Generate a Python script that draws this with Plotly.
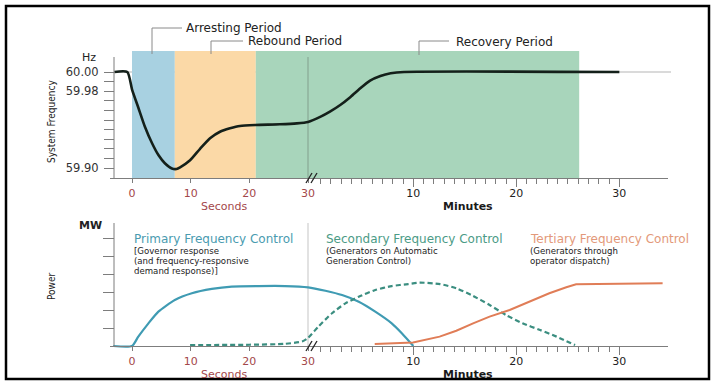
import plotly.graph_objects as go

W, H = 716, 383

# ---------------- data ----------------
# top panel: system frequency (Hz); first part in seconds, second part in minutes
freq_sec_t = [-3.0, -0.8, 0.0, 1.1, 2.2, 3.4, 4.5, 5.6, 6.8, 7.6, 8.2, 9.9, 11.6, 13.3, 15.0, 16.7, 18.4, 21.0, 25.2, 28.1, 30.0]
freq_sec_hz = [60.000, 60.000, 59.982, 59.9625, 59.943, 59.926, 59.9135, 59.905, 59.8995, 59.899, 59.9007,
               59.908, 59.920, 59.931, 59.9378, 59.9413, 59.9438, 59.9448, 59.9455, 59.9465, 59.948]
freq_min_t = [1.0, 1.9, 2.9, 3.9, 4.85, 5.8, 6.8, 7.8, 9.1, 30.0]
freq_min_hz = [59.9535, 59.9587, 59.9656, 59.974, 59.983, 59.991, 59.9958, 59.9986, 60.000, 60.000]

# response periods: (name, start, start unit, end, end unit)
period_names = ["Arresting Period", "Rebound Period", "Recovery Period"]
period_start = [0.0, 7.3, 21.1]
period_start_unit = ["s", "s", "s"]
period_end = [7.3, 21.1, 26.1]
period_end_unit = ["s", "s", "m"]
period_colors = ["#a8d1e1", "#fbd9a7", "#a8d5bb"]

# bottom panel: power (MW, arbitrary units)
primary_sec_t = [-3.2, 0.0, 1.07, 2.8, 4.5, 7.3, 10.2, 13.6, 17.0, 21.5, 26.1, 30.0]
primary_sec_p = [0.0, 0.0, 0.52, 1.26, 1.91, 2.56, 2.93, 3.17, 3.30, 3.33, 3.33, 3.26]
primary_min_t = [1.46, 3.08, 4.7, 6.3, 7.9, 8.9, 10.0]
primary_min_p = [3.07, 2.83, 2.46, 1.91, 1.26, 0.70, 0.0]

secondary_sec_t = [9.9, 20.0, 26.0, 29.0, 30.0]
secondary_sec_p = [0.05, 0.07, 0.12, 0.25, 0.45]
secondary_min_t = [0.77, 2.1, 3.4, 4.7, 6.3, 7.9, 9.5, 10.6, 12.6, 14.2, 15.8, 17.4, 19.0, 20.6, 22.3, 23.9, 25.7]
secondary_min_p = [1.07, 1.82, 2.37, 2.74, 3.11, 3.33, 3.44, 3.52, 3.44, 3.20, 2.78, 2.28, 1.72, 1.26, 0.89, 0.52, 0.05]

tertiary_min_t = [6.25, 9.97, 12.55, 14.17, 15.8, 17.4, 19.35, 21.3, 23.2, 24.85, 25.8, 34.2]
tertiary_min_p = [0.11, 0.19, 0.52, 0.85, 1.26, 1.63, 2.00, 2.46, 2.93, 3.26, 3.43, 3.48]

# axis ticks
sec_ticks = [0, 10, 20, 30]
sec_tick_labels = ["0", "10", "20", "30"]
min_ticks = [10, 20, 30]
min_tick_labels = ["10", "20", "30"]
min_minor_ticks = list(range(1, 31))
freq_ticks = [59.90, 59.91, 59.92, 59.93, 59.94, 59.95, 59.96, 59.97, 59.98, 59.99, 60.00]
freq_tick_labels = ["59.90", "", "", "", "", "", "", "", "59.98", "", "60.00"]
power_ticks = [1, 2, 3, 4, 5, 6]
power_tick_labels = ["", "", "", "", "", ""]

# ---------------- layout geometry ----------------
ZERO_PX = 132.0          # pixel of t = 0 s
SEC_PX = 5.867           # pixels per second
MIN_SCALE = 10.3 / SEC_PX  # seconds-units per minute on the broken axis
MIN_OFFSET = 30.4        # broken-axis position of minute 0


def u(v, unit):
    return v if unit == "s" else MIN_OFFSET + MIN_SCALE * v


def us(vals):
    return [u(v, "s") for v in vals]


def um(vals):
    return [u(v, "m") for v in vals]


def pxx(px):
    return px / W


def pxy(py):
    return 1 - py / H


def hz_at(py):
    return 60.0 - (py - 72.0) / 960.0


def p_at(py):
    return (346.0 - py) / 18.0


XR = [(110 - ZERO_PX) / SEC_PX, (668 - ZERO_PX) / SEC_PX]
XDOM = [pxx(110), pxx(668)]

RED = "#a3474a"
AX = "#7d7d7d"
FONT = "DejaVu Sans, Liberation Sans, sans-serif"
NARROW = "Liberation Sans Narrow, DejaVu Sans Condensed, Liberation Sans, sans-serif"

fig = go.Figure()

# frequency curve
fig.add_trace(go.Scatter(
    x=us(freq_sec_t) + um(freq_min_t), y=freq_sec_hz + freq_min_hz,
    mode="lines", line=dict(color="#14201a", width=2.6, shape="spline", smoothing=0.6),
    xaxis="x", yaxis="y", hoverinfo="skip"))

# primary
fig.add_trace(go.Scatter(
    x=us(primary_sec_t) + um(primary_min_t), y=primary_sec_p + primary_min_p,
    mode="lines", line=dict(color="#3f9bb3", width=2.2, shape="spline", smoothing=0.6),
    xaxis="x2", yaxis="y2", hoverinfo="skip"))
# secondary
fig.add_trace(go.Scatter(
    x=us(secondary_sec_t) + um(secondary_min_t), y=secondary_sec_p + secondary_min_p,
    mode="lines", line=dict(color="#3b8e80", width=2.2, dash="5px,3px", shape="spline", smoothing=0.6),
    xaxis="x2", yaxis="y2", hoverinfo="skip"))
# tertiary
fig.add_trace(go.Scatter(
    x=um(tertiary_min_t), y=tertiary_min_p,
    mode="lines", line=dict(color="#e07d57", width=2.0),
    xaxis="x2", yaxis="y2", hoverinfo="skip"))

# empty traces so that the minute-scale overlay axes are drawn
fig.add_trace(go.Scatter(x=[], y=[], mode="lines", xaxis="x3", yaxis="y", hoverinfo="skip"))
fig.add_trace(go.Scatter(x=[], y=[], mode="lines", xaxis="x4", yaxis="y2", hoverinfo="skip"))

shapes = []
# period bands
for s0, su0, s1, su1, col in zip(period_start, period_start_unit, period_end, period_end_unit, period_colors):
    shapes.append(dict(type="rect", xref="x", yref="y", x0=u(s0, su0), x1=u(s1, su1),
                       y0=hz_at(178), y1=hz_at(51), fillcolor=col, line=dict(width=0), layer="below"))
# 60 Hz reference line
shapes.append(dict(type="line", xref="paper", yref="y", x0=pxx(114), x1=pxx(671), y0=60.0, y1=60.0,
                   line=dict(color="rgba(90,90,90,0.45)", width=1), layer="below"))
# 30-second divider lines
shapes.append(dict(type="line", xref="x", yref="y", x0=30, x1=30, y0=hz_at(178), y1=hz_at(57),
                   line=dict(color="rgba(60,60,60,0.35)", width=1), layer="below"))
shapes.append(dict(type="line", xref="x2", yref="y2", x0=30, x1=30, y0=0, y1=p_at(223),
                   line=dict(color="rgba(60,60,60,0.3)", width=1), layer="below"))
# y axis lines
shapes.append(dict(type="line", xref="paper", yref="y", x0=pxx(114), x1=pxx(114), y0=hz_at(178), y1=hz_at(57),
                   line=dict(color=AX, width=1)))
shapes.append(dict(type="line", xref="paper", yref="y2", x0=pxx(114), x1=pxx(114), y0=0, y1=p_at(223),
                   line=dict(color=AX, width=1)))
# axis break marks
for yb in (178, 346):
    for dx in (0, 5):
        shapes.append(dict(type="line", xref="paper", yref="paper",
                           x0=pxx(306 + dx), y0=pxy(yb + 5), x1=pxx(312 + dx), y1=pxy(yb - 5),
                           line=dict(color="#222", width=1.3)))
# leader lines for period labels
leaders = [(152, 28, 182, 54), (211, 41, 243, 54), (419, 41, 449, 55)]
for xv, yh, xe, yb in leaders:
    shapes.append(dict(type="line", xref="paper", yref="paper", x0=pxx(xv), x1=pxx(xe), y0=pxy(yh), y1=pxy(yh),
                       line=dict(color="#8a8a8a", width=1)))
    shapes.append(dict(type="line", xref="paper", yref="paper", x0=pxx(xv), x1=pxx(xv), y0=pxy(yh), y1=pxy(yb),
                       line=dict(color="#8a8a8a", width=1)))
# outer frame
shapes.append(dict(type="rect", xref="paper", yref="paper", x0=pxx(6), x1=pxx(709), y0=pxy(379), y1=pxy(6),
                   line=dict(color="#000", width=2.5)))

ann = []


def text(x, y, s, size=12, color="#222", anchor="left", angle=0, family=FONT, weight="normal"):
    ann.append(dict(xref="paper", yref="paper", x=pxx(x), y=pxy(y), text=s, showarrow=False,
                    xanchor=anchor, yanchor="middle", textangle=angle,
                    font=dict(size=size, color=color, family=family, weight=weight)))


period_label_pos = [(185, 28), (247, 41), (455, 42)]
for name, (xl, yl) in zip(period_names, period_label_pos):
    text(xl - 1, yl, name, size=12)

text(98, 58, "Hz", size=11, anchor="right")
text(51, 121, "System Frequency", size=10, angle=-90, anchor="center", family=NARROW)
text(51, 286, "Power", size=10, angle=-90, anchor="center", family=NARROW)
text(90, 226, "MW", size=11, anchor="center", weight="bold")

for yy in (206, 374):
    text(224, yy, "Seconds", size=11, color=RED, anchor="center")
    text(468, yy, "Minutes", size=11, color="#1a1a1a", anchor="center", weight="bold")

SUB = 8.6
text(132, 239, "Primary Frequency Control", size=12, color="#4a9bb0")
text(132, 250.5, "[Governor response", size=SUB)
text(132, 260.5, "(and frequency-responsive", size=SUB)
text(132, 270.5, "demand response)]", size=SUB)

text(324, 239, "Secondary Frequency Control", size=12, color="#4b9b86")
text(324, 250.5, "(Generators on Automatic", size=SUB)
text(324, 260.5, "Generation Control)", size=SUB)

text(528, 239, "Tertiary Frequency Control", size=12, color="#e3997a")
text(528, 250.5, "(Generators through", size=SUB)
text(528, 260.5, "operator dispatch)", size=SUB)


def sec_axis(pos_py):
    return dict(domain=XDOM, range=XR, anchor="free", position=pxy(pos_py),
                showline=True, linecolor=AX, linewidth=1, showgrid=False, zeroline=False,
                tickmode="array", tickvals=us(sec_ticks), ticktext=sec_tick_labels,
                ticks="outside", ticklen=4, tickcolor=AX, tickwidth=1,
                tickfont=dict(size=11, color=RED, family=FONT), ticklabelstandoff=1)


def min_axis(over, pos_py):
    return dict(overlaying=over, domain=XDOM, range=XR, anchor="free", position=pxy(pos_py),
                showline=False, showgrid=False, zeroline=False,
                tickmode="array", tickvals=um(min_ticks), ticktext=min_tick_labels,
                ticks="outside", ticklen=8, tickcolor=AX, tickwidth=1,
                tickfont=dict(size=11, color="#222", family=FONT), ticklabelstandoff=-3,
                minor=dict(tickmode="array", tickvals=um(min_minor_ticks), ticks="outside",
                           ticklen=5, tickcolor=AX, tickwidth=1))


fig.update_layout(
    width=W, height=H, autosize=False,
    margin=dict(l=0, r=0, t=0, b=0),
    paper_bgcolor="white", plot_bgcolor="rgba(0,0,0,0)",
    showlegend=False,
    xaxis=sec_axis(178),
    xaxis3=min_axis("x", 178),
    xaxis2=sec_axis(346),
    xaxis4=min_axis("x2", 346),
    yaxis=dict(domain=[pxy(182), pxy(18)], range=[hz_at(182), hz_at(18)], anchor="free", position=pxx(114),
               showline=False, showgrid=False, zeroline=False,
               tickmode="array", tickvals=freq_ticks, ticktext=freq_tick_labels,
               ticks="outside", ticklen=10, tickcolor=AX, tickwidth=1,
               tickfont=dict(size=11.5, color="#333", family=FONT), ticklabelstandoff=3),
    yaxis2=dict(domain=[pxy(352), pxy(215)], range=[p_at(352), p_at(215)], anchor="free", position=pxx(114),
                showline=False, showgrid=False, zeroline=False,
                tickmode="array", tickvals=power_ticks, ticktext=power_tick_labels,
                ticks="outside", ticklen=11, tickcolor=AX, tickwidth=1),
    shapes=shapes,
    annotations=ann,
)

fig.write_html("out.html", config={"displayModeBar": False},
               post_script="document.body.style.margin='0';document.body.style.overflow='hidden';")
